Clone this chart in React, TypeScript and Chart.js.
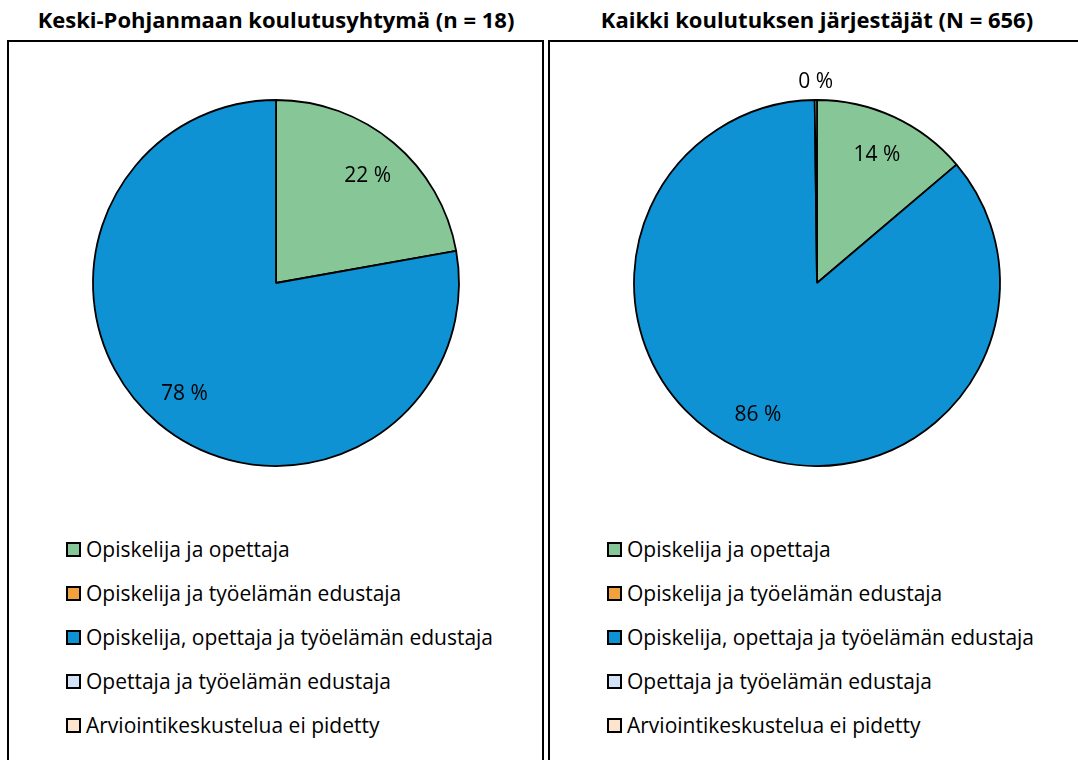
import React, { useEffect, useRef } from "react";
import { Chart, registerables } from "chart.js";

Chart.register(...registerables);

const categories = [
  "Opiskelija ja opettaja",
  "Opiskelija ja työelämän edustaja",
  "Opiskelija, opettaja ja työelämän edustaja",
  "Opettaja ja työelämän edustaja",
  "Arviointikeskustelua ei pidetty",
];
const colors = ["#87C697", "#F2A13F", "#0F92D4", "#D3E3F5", "#FDE4CC"];
const leftTitle = "Keski-Pohjanmaan koulutusyhtymä (n = 18)";
const leftValues = [22.2, 0, 77.8, 0, 0];
const rightTitle = "Kaikki koulutuksen järjestäjät (N = 656)";
const rightValues = [13.8, 0, 86.0, 0.2, 0];

const FONT = "'Open Sans', sans-serif";

const labelPlugin = {
  id: "sliceLabels",
  afterDatasetsDraw(chart: any) {
    const ctx = chart.ctx;
    const meta = chart.getDatasetMeta(0);
    const data = chart.data.datasets[0].data as number[];
    ctx.save();
    ctx.fillStyle = "#000";
    ctx.font = `21px ${FONT}`;
    ctx.textAlign = "center";
    ctx.textBaseline = "middle";
    meta.data.forEach((arc: any, i: number) => {
      const v = data[i];
      if (!v) return;
      const p = arc.getProps(["x", "y", "startAngle", "endAngle", "outerRadius"], true);
      const mid = (p.startAngle + p.endAngle) / 2;
      const r = v < 1 ? p.outerRadius + 20 : p.outerRadius * 0.78;
      ctx.fillText(`${Math.round(v)} %`, p.x + Math.cos(mid) * r, p.y + Math.sin(mid) * r + 2);
    });
    ctx.restore();
  },
};

function PieCanvas({ values }: { values: number[] }) {
  const ref = useRef<HTMLCanvasElement>(null);
  useEffect(() => {
    if (!ref.current) return;
    const chart = new Chart(ref.current, {
      type: "pie",
      data: {
        labels: categories,
        datasets: [
          {
            data: values,
            backgroundColor: colors,
            borderColor: "#000",
            borderWidth: 1.8,
          },
        ],
      },
      options: {
        animation: false,
        responsive: false,
        radius: 183,
        layout: { padding: 0 },
        plugins: { legend: { display: false }, tooltip: { enabled: false } },
      } as any,
      plugins: [labelPlugin],
    });
    return () => chart.destroy();
  }, [values]);
  return <canvas ref={ref} width={520} height={440} style={{ width: 520, height: 440, display: "block" }} />;
}

function Panel({ title, values, boxLeft }: { title: string; values: number[]; boxLeft: number }) {
  const cx = boxLeft + 269;
  return (
    <>
      <div
        style={{
          position: "absolute",
          left: cx - 300,
          width: 600,
          top: 3,
          height: 32,
          lineHeight: "32px",
          textAlign: "center",
          fontFamily: FONT,
          fontWeight: 700,
          fontSize: 22,
          color: "#000",
          whiteSpace: "nowrap",
        }}
      >
        {title}
      </div>
      <div
        style={{
          position: "absolute",
          left: boxLeft,
          top: 40,
          width: 533,
          height: 760,
          border: "2px solid #000",
          boxSizing: "content-box",
        }}
      />
      <div style={{ position: "absolute", left: cx - 260, top: 283 - 220 }}>
        <PieCanvas values={values} />
      </div>
      {categories.map((c, i) => (
        <div
          key={c}
          style={{
            position: "absolute",
            left: boxLeft + 59,
            top: 549 + i * 44 - 14,
            height: 28,
            display: "flex",
            alignItems: "center",
            fontFamily: FONT,
            fontSize: 21,
            color: "#000",
            whiteSpace: "nowrap",
          }}
        >
          <span
            style={{
              display: "inline-block",
              width: 11,
              height: 11,
              border: "2px solid #000",
              background: colors[i],
              marginRight: 5,
            }}
          />
          <span>{c}</span>
        </div>
      ))}
    </>
  );
}

export default function App() {
  return (
    <div
      style={{
        position: "fixed",
        left: 0,
        top: 0,
        width: 1078,
        height: 760,
        overflow: "hidden",
        background: "#fff",
      }}
    >
      <Panel title={leftTitle} values={leftValues} boxLeft={7} />
      <Panel title={rightTitle} values={rightValues} boxLeft={548} />
    </div>
  );
}
